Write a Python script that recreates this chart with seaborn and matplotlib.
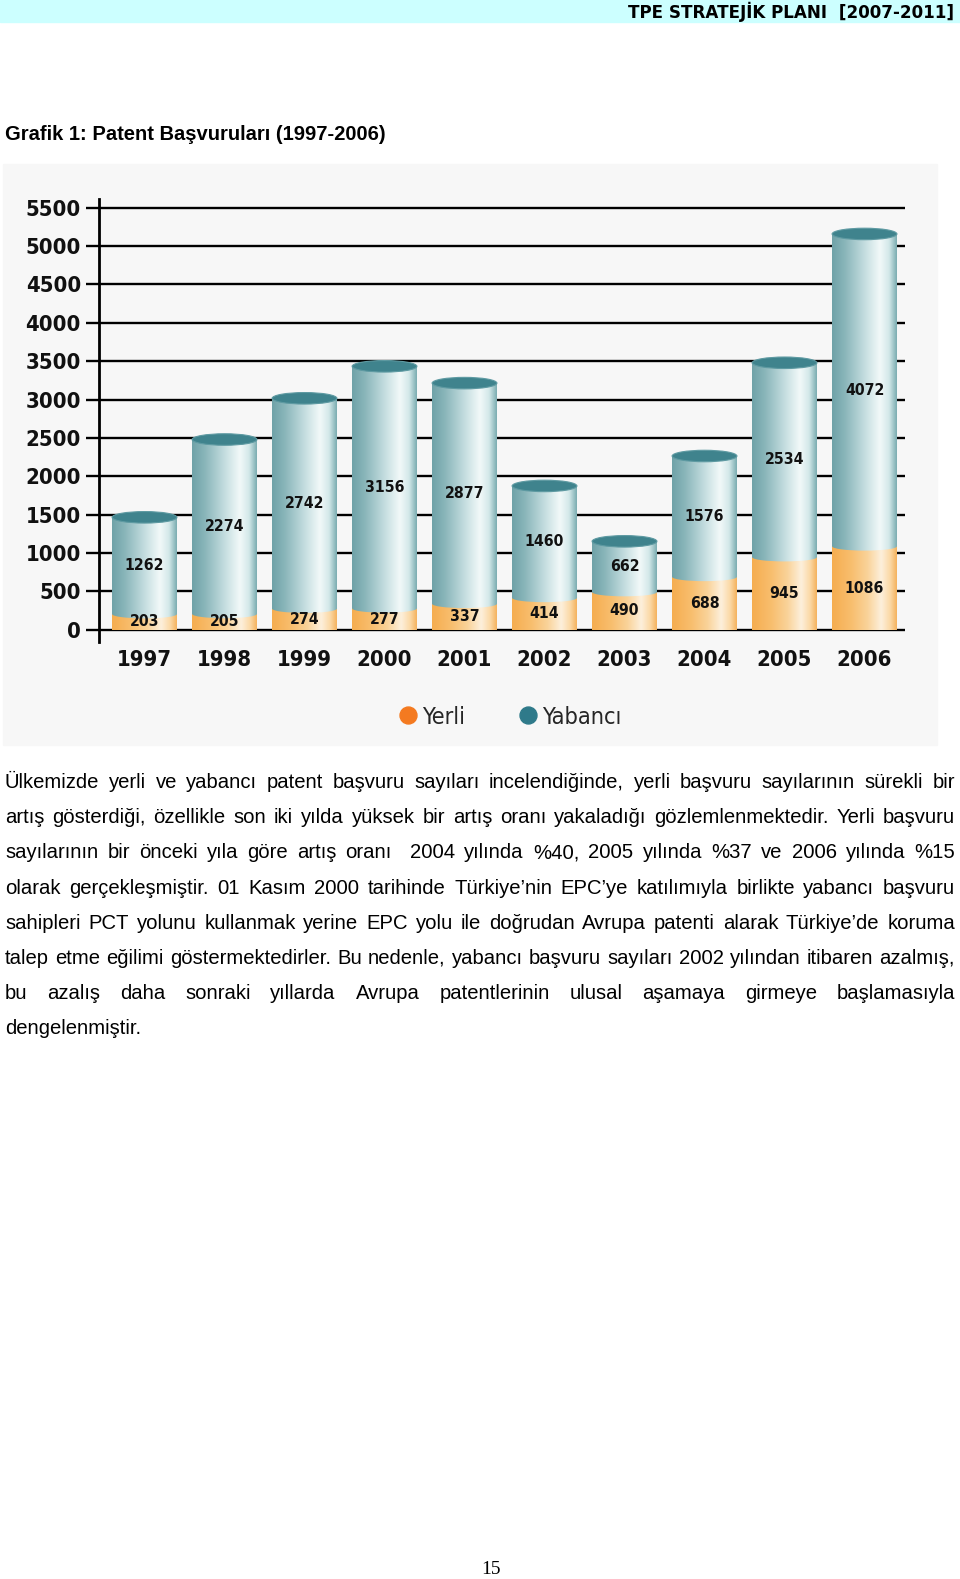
import numpy as np
import pandas as pd
import seaborn as sns
import matplotlib
matplotlib.use("Agg")
import matplotlib.pyplot as plt
from matplotlib import font_manager as fm
from matplotlib.font_manager import FontProperties
from matplotlib.patches import Ellipse, Rectangle
from matplotlib.colors import LinearSegmentedColormap
from matplotlib.lines import Line2D

# ---------------- data ----------------
years = ["1997", "1998", "1999", "2000", "2001", "2002", "2003", "2004", "2005", "2006"]
yerli = [203, 205, 274, 277, 337, 414, 490, 688, 945, 1086]
yabanci = [1262, 2274, 2742, 3156, 2877, 1460, 662, 1576, 2534, 4072]
y_ticks = [0, 500, 1000, 1500, 2000, 2500, 3000, 3500, 4000, 4500, 5000, 5500]
legend_labels = ["Yerli", "Yabancı"]

header_text = "TPE STRATEJİK PLANI  [2007-2011]"
title_text = "Grafik 1: Patent Başvuruları (1997-2006)"
body_lines = [
    "Ülkemizde yerli ve yabancı patent başvuru sayıları incelendiğinde, yerli başvuru sayılarının sürekli bir",
    "artış gösterdiği, özellikle son iki yılda yüksek bir artış oranı yakaladığı gözlemlenmektedir. Yerli başvuru",
    "sayılarının bir önceki yıla göre artış oranı  2004 yılında %40, 2005 yılında %37 ve 2006 yılında %15",
    "olarak gerçekleşmiştir. 01 Kasım 2000 tarihinde Türkiye’nin EPC’ye katılımıyla birlikte yabancı başvuru",
    "sahipleri PCT yolunu kullanmak yerine EPC yolu ile doğrudan Avrupa patenti alarak Türkiye’de koruma",
    "talep etme eğilimi göstermektedirler. Bu nedenle, yabancı başvuru sayıları 2002 yılından itibaren azalmış,",
    "bu azalış daha sonraki yıllarda Avrupa patentlerinin ulusal aşamaya girmeye başlamasıyla",
    "dengelenmiştir.",
]
page_number = "15"

# ---------------- style ----------------
sns.set_theme(style="white")
plt.rcParams["font.family"] = ["Liberation Sans", "DejaVu Sans"]


def find_condensed(bold):
    """Look for an installed narrow/condensed sans font file."""
    best = None
    for f in fm.fontManager.ttflist:
        name = f.name.lower()
        fname = f.fname.lower()
        narrow = ("narrow" in name or "condensed" in name or "condensed" in fname
                  or "narrow" in fname or f.stretch in ("condensed", "semi-condensed"))
        if not narrow or "oblique" in fname or "italic" in fname or f.style != "normal":
            continue
        wt = f.weight if isinstance(f.weight, int) else (700 if "bold" in str(f.weight) else 400)
        if bold and wt < 600:
            continue
        if not bold and wt >= 600:
            continue
        if not bold and ("light" in fname or "thin" in fname):
            continue
        if "mono" in name or "serif" in name:
            continue
        if "liberation" in name:
            score = 3
        elif "dejavu" in name:
            score = 2
        else:
            score = 1
        if best is None or score > best[0]:
            best = (score, f.fname)
    return best[1] if best else None


_nb = find_condensed(True)
_nr = find_condensed(False)
if _nb:
    NB = FontProperties(fname=_nb)
    NB_SCALE = 1.0
else:
    NB = FontProperties(family=["Liberation Sans", "DejaVu Sans"], weight="bold")
    NB_SCALE = 0.9
if _nr:
    NR = FontProperties(fname=_nr)
    NR_SCALE = 1.0
else:
    NR = FontProperties(family=["Liberation Sans", "DejaVu Sans"])
    NR_SCALE = 0.9


def nb(size):
    p = NB.copy()
    p.set_size(size * NB_SCALE)
    return p


def nr(size):
    p = NR.copy()
    p.set_size(size * NR_SCALE)
    return p


W, H = 960, 1579
fig = plt.figure(figsize=(W / 100, H / 100), dpi=100)
fig.patch.set_facecolor("white")


def fx(px):
    return px / W


def fy(py):
    return 1 - py / H


# chart background & header band (behind everything)
fig.patches.append(Rectangle((fx(3), fy(745)), fx(934), (745 - 164) / H,
                             transform=fig.transFigure, color="#f7f7f7", zorder=-5))
fig.patches.append(Rectangle((0, fy(22)), 1, 22 / H,
                             transform=fig.transFigure, color="#ccffff", zorder=-5))

TEAL = "#8dbcbf"
ORANGE = "#f8bd6c"
teal_cmap = LinearSegmentedColormap.from_list(
    "teal", [(0.0, "#6fa2a8"), (0.2, "#8ab6ba"), (0.5, "#c3dddf"),
             (0.74, "#f2f9f9"), (0.88, "#d3e8e9"), (1.0, "#7aacb0")])
orange_cmap = LinearSegmentedColormap.from_list(
    "orange", [(0.0, "#f5ad50"), (0.3, "#f8be6e"), (0.55, "#fad39a"),
               (0.76, "#fdf0dc"), (0.9, "#fbd8a4"), (1.0, "#f4b25e")])
grad = np.linspace(0, 1, 256)[np.newaxis, :]

# ---------------- chart ----------------
ax = fig.add_axes([fx(99), fy(642), fx(905 - 99), (642 - 198.5) / H])
ax.set_facecolor("none")
ax.set_zorder(2)

df = pd.DataFrame({"Yıl": years, "Yerli": yerli, "Yabancı": yabanci})
df["Toplam"] = df["Yerli"] + df["Yabancı"]

BW = 0.81
sns.barplot(data=df, x="Yıl", y="Toplam", color=TEAL, width=BW, saturation=1,
            errorbar=None, ax=ax, zorder=2, linewidth=0)
sns.barplot(data=df, x="Yıl", y="Yerli", color=ORANGE, width=BW, saturation=1,
            errorbar=None, ax=ax, zorder=3, linewidth=0)

tot_bars = ax.patches[:len(years)]
yer_bars = ax.patches[len(years):2 * len(years)]

XLIM = (-0.569, 9.506)
YLIM = (-160, 5620)
ELL_TOP = 150
ELL_MID = 110

for p in tot_bars:
    x0, w, y0, h = p.get_x(), p.get_width(), p.get_y(), p.get_height()
    im = ax.imshow(grad, cmap=teal_cmap, extent=[x0, x0 + w, y0, y0 + h],
                   aspect="auto", zorder=2.1, interpolation="bicubic")
    im.set_clip_path(p)
for p in yer_bars:
    x0, w, y0, h = p.get_x(), p.get_width(), p.get_y(), p.get_height()
    im = ax.imshow(grad, cmap=orange_cmap, extent=[x0, x0 + w, y0, y0 + h],
                   aspect="auto", zorder=3.1, interpolation="bicubic")
    im.set_clip_path(p)
    # curved front edge of teal segment over orange
    ell = Ellipse((x0 + w / 2, y0 + h), w, ELL_MID, transform=ax.transData)
    im2 = ax.imshow(grad, cmap=teal_cmap,
                    extent=[x0, x0 + w, y0 + h - ELL_MID, y0 + h + ELL_MID],
                    aspect="auto", zorder=3.2, interpolation="bicubic")
    im2.set_clip_path(ell)
for p in tot_bars:
    x0, w, y0, h = p.get_x(), p.get_width(), p.get_y(), p.get_height()
    ax.add_patch(Ellipse((x0 + w / 2, y0 + h), w, ELL_TOP, facecolor="#3f838d",
                         edgecolor="#5e9aa2", lw=0.8, zorder=4))

# value labels
for i, (a, b) in enumerate(zip(yerli, yabanci)):
    ax.text(i, a / 2, str(a), ha="center", va="center", fontproperties=nb(11.3),
            color="#111111", zorder=6)
    ax.text(i, a + b / 2, str(b), ha="center", va="center", fontproperties=nb(11.3),
            color="#111111", zorder=6)

ax.set_xlim(*XLIM)
ax.set_ylim(*YLIM)
ax.set_yticks(y_ticks)
ax.set_yticklabels([str(t) for t in y_ticks])
ax.set_xlabel("")
ax.set_ylabel("")
ax.yaxis.grid(True, color="black", lw=1.7)
ax.xaxis.grid(False)
ax.set_axisbelow(True)
for s in ["top", "right", "bottom"]:
    ax.spines[s].set_visible(False)
ax.spines["left"].set_color("black")
ax.spines["left"].set_linewidth(2)
ax.tick_params(axis="y", length=9.4, width=1.7, color="black", pad=3.6,
               direction="out", left=True)
ax.tick_params(axis="x", length=0, pad=6)
for lab in ax.get_yticklabels() + ax.get_xticklabels():
    lab.set_fontproperties(nb(15.8))
    lab.set_color("#111111")

# legend
handles = [Line2D([], [], marker="o", ls="", color="#f47a20", markersize=12.2),
           Line2D([], [], marker="o", ls="", color="#2f7a8a", markersize=12.2)]
fig.legend(handles, legend_labels, loc="center", bbox_to_anchor=(fx(509), fy(717)),
           ncol=2, frameon=False, prop=nr(16.8),
           handletextpad=0.1, columnspacing=2.2, handlelength=1.0)

# ---------------- page texts ----------------
fig.text(fx(954), fy(18), header_text, ha="right", va="baseline", fontsize=12.1,
         fontweight="bold", family=["DejaVu Sans"], color="#000000")
fig.text(fx(5), fy(140), title_text, ha="left", va="baseline", fontsize=14.5,
         fontweight="bold", color="#000000")
fig.text(fx(491), fy(1574), page_number, ha="center", va="baseline", fontsize=14,
         family=["Liberation Serif", "DejaVu Serif"], color="#000000")

renderer = fig.canvas.get_renderer()
BODY_FS = 14.6
X0, X1 = 5, 955
BASE0, DY = 788, 35.2
t1 = fig.text(0, 0, "a a", fontsize=BODY_FS)
t2 = fig.text(0, 0, "aa", fontsize=BODY_FS)
space_w = t1.get_window_extent(renderer).width - t2.get_window_extent(renderer).width
t1.remove()
t2.remove()
for k, line in enumerate(body_lines):
    yb = fy(BASE0 + k * DY)
    words = line.split(" ")
    texts = [fig.text(0, yb, w, fontsize=BODY_FS, ha="left", va="baseline",
                      color="#000000") for w in words]
    widths = [t.get_window_extent(renderer).width if t.get_text() else 0 for t in texts]
    if k == len(body_lines) - 1 or len(words) < 2:
        gap = space_w
    else:
        gap = ((X1 - X0) - sum(widths)) / (len(words) - 1)
        if gap < space_w * 0.5:
            gap = space_w * 0.5
    x = X0
    for t, w in zip(texts, widths):
        t.set_x(x / W)
        x += w + gap

fig.savefig("out.png", dpi=100, facecolor="white")
